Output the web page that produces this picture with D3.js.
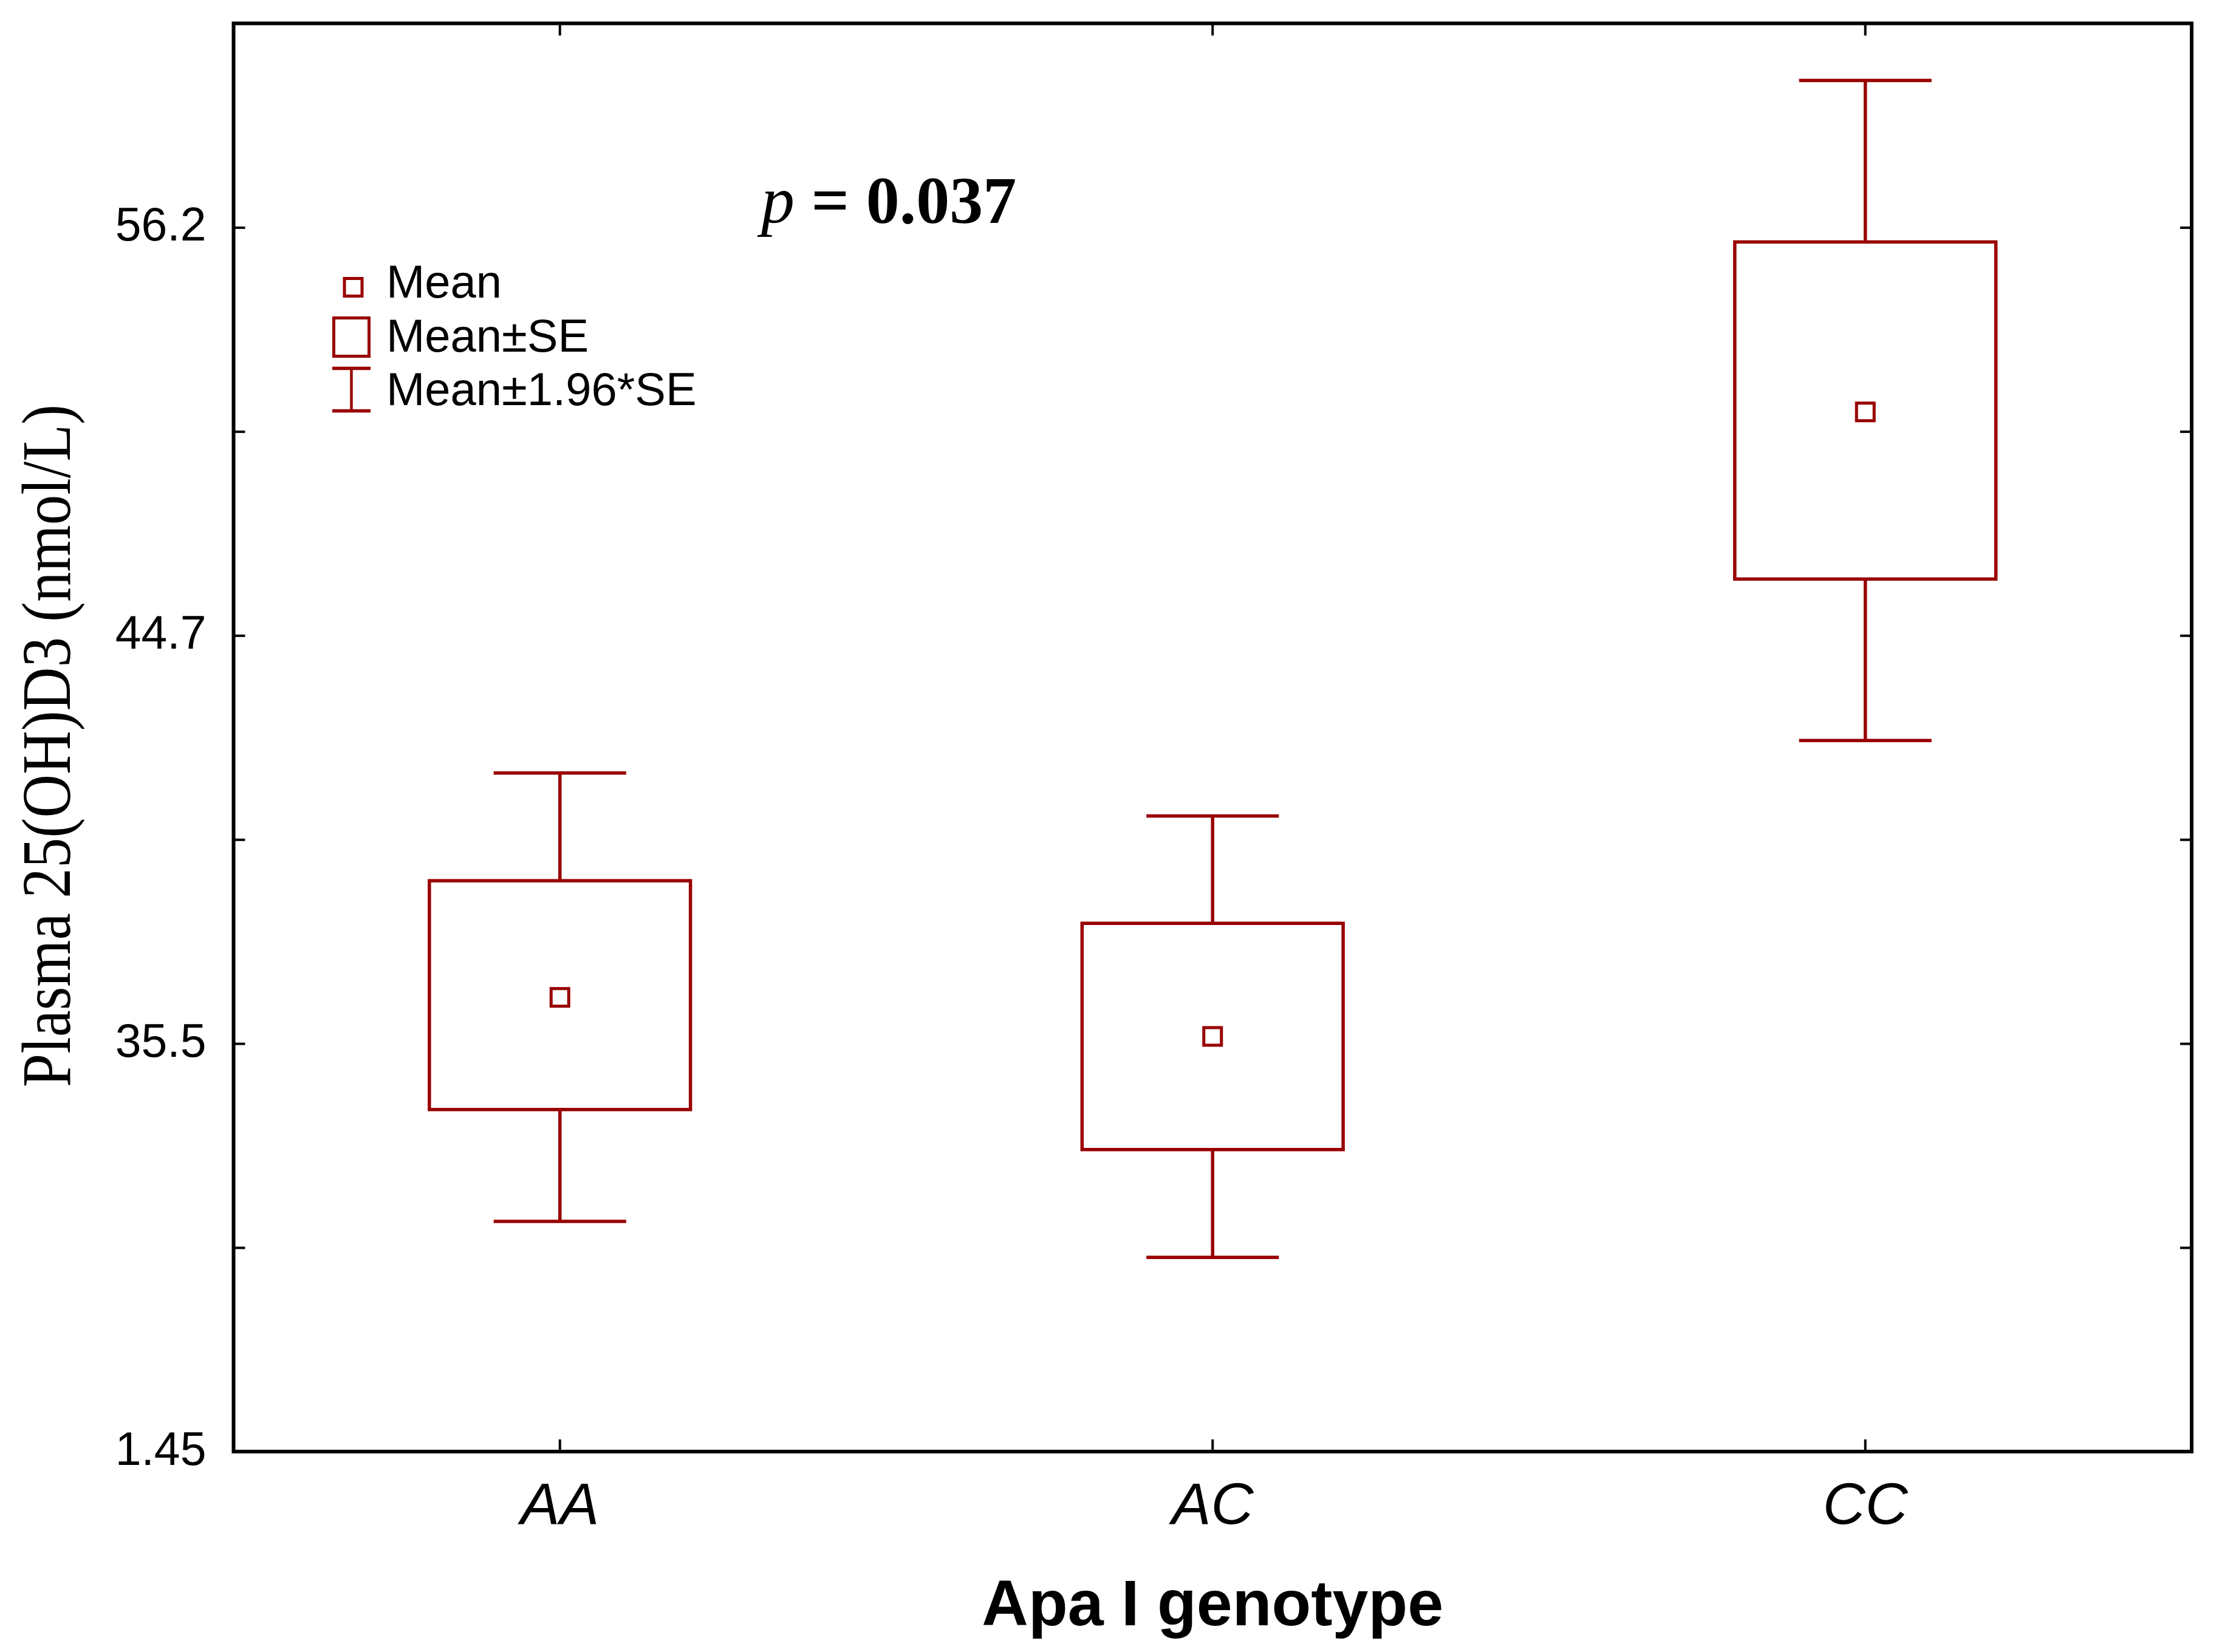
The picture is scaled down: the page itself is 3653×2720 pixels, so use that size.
<!DOCTYPE html>
<html>
<head>
<meta charset="utf-8">
<script src="https://cdn.jsdelivr.net/npm/d3@7"></script>
<style>
  body { margin: 0; background: #fff; }
  svg { display: block; }
</style>
</head>
<body>
<svg width="3653" height="2720"></svg>
<script>
// genotype groups
const genotypes = ["AA", "AC", "CC"];
// mean, mean±SE, mean±1.96*SE  (in axis units)
const means   = [36.54, 35.66, 51.00];
const seLow   = [29.99, 26.65, 46.29];
const seHigh  = [39.17, 38.21, 55.79];
const ciLow   = [20.66, 17.65, 42.33];
const ciHigh  = [41.60, 40.63, 60.34];

// y axis: the labels are not evenly spaced in value, so the scale is piecewise
const yBreaks = [1.45, 35.5, 44.7, 56.2, 61.95];
const yTicks = [1.45, 18.475, 35.5, 40.1, 44.7, 50.45, 56.2];
const yLabels = { 1.45: "1.45", 35.5: "35.5", 44.7: "44.7", 56.2: "56.2" };

const legendLabels = ["Mean", "Mean\u00b1SE", "Mean\u00b11.96*SE"];

const red = "#990000";
const sans = "'Liberation Sans', Arial, sans-serif";
const serif = "'Liberation Serif', 'Times New Roman', serif";

const svg = d3.select("svg");
const plotL = 384.5, plotR = 3608, plotT = 38.5, plotB = 2390;
const step = (plotB - plotT) / 7;

const x = d3.scaleBand().domain(genotypes).range([plotL, plotR]).padding(0);
const y = d3.scaleLinear()
    .domain(yBreaks)
    .range([plotB, plotB - 2 * step, plotB - 4 * step, plotB - 6 * step, plotT]);

const rows = genotypes.map((g, i) => ({
    g: g, mean: means[i], seLow: seLow[i], seHigh: seHigh[i], ciLow: ciLow[i], ciHigh: ciHigh[i]
}));

// axes, ticks pointing inwards on all four sides
const axisL = svg.append("g")
    .attr("transform", `translate(${plotL},0)`)
    .call(d3.axisLeft(y).tickValues(yTicks).tickSize(-19).tickPadding(45)
        .tickFormat(d => yLabels[d] || ""));
const axisR = svg.append("g")
    .attr("transform", `translate(${plotR},0)`)
    .call(d3.axisRight(y).tickValues(yTicks).tickSize(-19).tickFormat(""));
const axisB = svg.append("g")
    .attr("transform", `translate(0,${plotB})`)
    .call(d3.axisBottom(x).tickSize(-20).tickPadding(50));
const axisT = svg.append("g")
    .attr("transform", `translate(0,${plotT})`)
    .call(d3.axisTop(x).tickSize(-20).tickFormat(""));

[axisL, axisR, axisB, axisT].forEach(a => {
    a.select(".domain").remove();
    a.selectAll(".tick line").attr("stroke", "#000").attr("stroke-width", 4);
});

axisL.selectAll("text")
    .attr("font-family", sans).attr("font-size", 77).attr("fill", "#000")
    .attr("dy", "0.28em");
axisB.selectAll("text")
    .attr("font-family", sans).attr("font-size", 97).attr("font-style", "italic")
    .attr("fill", "#000");

// frame
svg.append("rect")
    .attr("x", plotL).attr("y", plotT)
    .attr("width", plotR - plotL).attr("height", plotB - plotT)
    .attr("fill", "none").attr("stroke", "#000").attr("stroke-width", 6);

// boxes and whiskers
const groups = svg.append("g").selectAll("g")
    .data(rows)
    .join("g")
    .attr("transform", d => `translate(${x(d.g) + x.bandwidth() / 2},0)`)
    .attr("stroke", red).attr("stroke-width", 5.5).attr("fill", "none");

const boxW = x.bandwidth() * 0.4;
const capW = x.bandwidth() * 0.203;

groups.append("line")
    .attr("y1", d => y(d.ciHigh)).attr("y2", d => y(d.seHigh));
groups.append("line")
    .attr("y1", d => y(d.seLow)).attr("y2", d => y(d.ciLow));
groups.append("line")
    .attr("x1", -capW / 2).attr("x2", capW / 2)
    .attr("y1", d => y(d.ciHigh)).attr("y2", d => y(d.ciHigh));
groups.append("line")
    .attr("x1", -capW / 2).attr("x2", capW / 2)
    .attr("y1", d => y(d.ciLow)).attr("y2", d => y(d.ciLow));
groups.append("rect")
    .attr("x", -boxW / 2).attr("width", boxW)
    .attr("y", d => y(d.seHigh)).attr("height", d => y(d.seLow) - y(d.seHigh));
groups.append("rect")
    .attr("x", -14.5).attr("width", 29).attr("height", 29)
    .attr("y", d => y(d.mean) - 14.5)
    .attr("stroke-width", 5);

// legend
const legend = svg.append("g").attr("stroke", red).attr("fill", "none");
legend.append("rect").attr("x", 567).attr("y", 458.5).attr("width", 29).attr("height", 29)
    .attr("stroke-width", 5);
legend.append("rect").attr("x", 549.5).attr("y", 523.5).attr("width", 58).attr("height", 63)
    .attr("stroke-width", 5);
legend.append("line").attr("x1", 578.5).attr("x2", 578.5).attr("y1", 606).attr("y2", 677)
    .attr("stroke-width", 4.5);
legend.append("line").attr("x1", 547).attr("x2", 610).attr("y1", 606.5).attr("y2", 606.5)
    .attr("stroke-width", 5.5);
legend.append("line").attr("x1", 547).attr("x2", 610).attr("y1", 676.5).attr("y2", 676.5)
    .attr("stroke-width", 5.5);

svg.append("g").selectAll("text")
    .data(legendLabels)
    .join("text")
    .attr("x", 636)
    .attr("y", (d, i) => 490 + i * 88.5)
    .attr("font-family", sans).attr("font-size", 76).attr("fill", "#000")
    .text(d => d);

// p-value annotation
const pText = svg.append("text")
    .attr("x", 1253).attr("y", 367)
    .attr("font-family", serif).attr("font-size", 110).attr("fill", "#000");
pText.append("tspan").attr("font-style", "italic").text("p");
pText.append("tspan").attr("font-weight", "bold").text(" = 0.037");

// axis titles
svg.append("text")
    .attr("x", (plotL + plotR) / 2).attr("y", 2676)
    .attr("text-anchor", "middle")
    .attr("font-family", sans).attr("font-size", 106).attr("font-weight", "bold")
    .attr("fill", "#000")
    .text("Apa I genotype");

svg.append("text")
    .attr("transform", "translate(115,1228) rotate(-90)")
    .attr("text-anchor", "middle")
    .attr("font-family", serif).attr("font-size", 114).attr("fill", "#000")
    .attr("textLength", 1124).attr("lengthAdjust", "spacingAndGlyphs")
    .text("Plasma 25(OH)D3 (nmol/L)");
</script>
</body>
</html>
